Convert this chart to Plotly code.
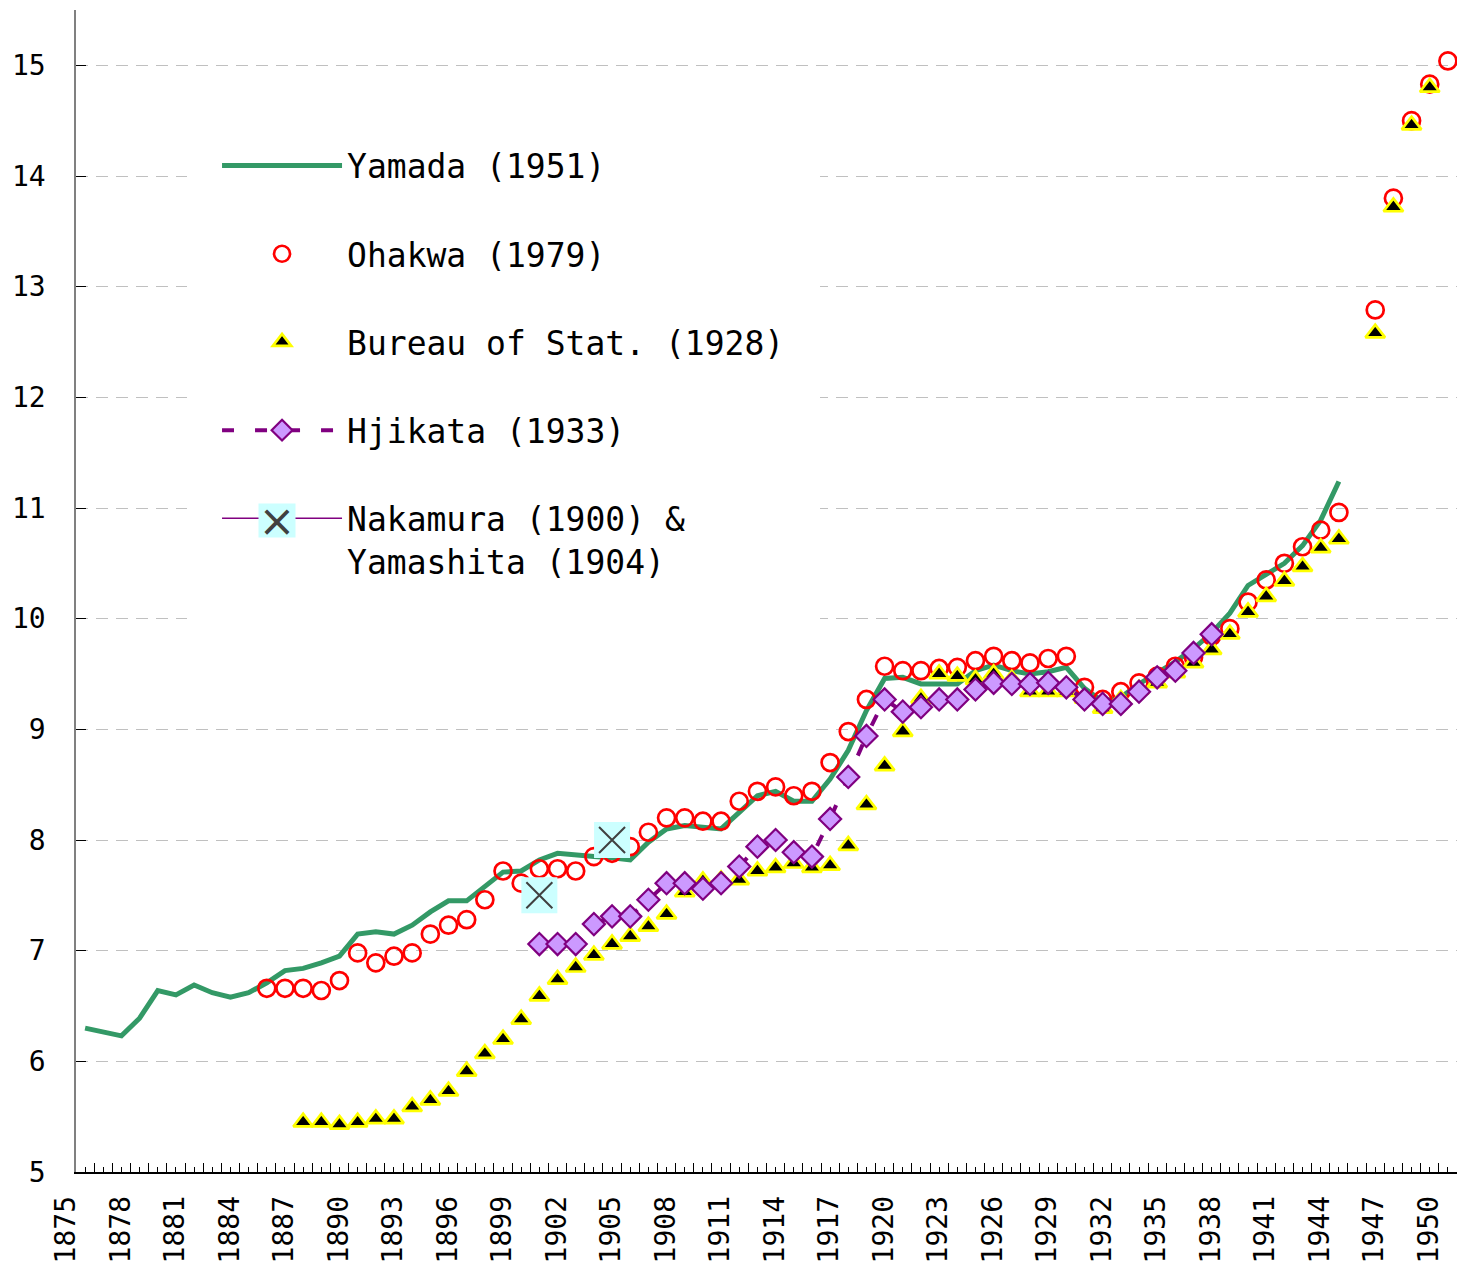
import plotly.graph_objects as go

FONT = "DejaVu Sans Mono"

# ---------------- data ----------------
yamada_years = list(range(1875, 1945))
yamada = [6.30, 6.27, 6.23, 6.39, 6.64, 6.60, 6.69, 6.62, 6.58, 6.62,
          6.71, 6.82, 6.84, 6.89, 6.95, 7.15, 7.17, 7.15, 7.23, 7.35,
          7.45, 7.45, 7.58, 7.71, 7.72, 7.82, 7.88, 7.86, 7.85, 7.84,
          7.82, 7.98, 8.10, 8.13, 8.11, 8.10, 8.25, 8.40, 8.44, 8.35,
          8.35, 8.55, 8.81, 9.17, 9.46, 9.47, 9.41, 9.41, 9.41, 9.53,
          9.58, 9.53, 9.50, 9.52, 9.56, 9.37, 9.25, 9.29, 9.41, 9.51,
          9.61, 9.73, 9.87, 10.05, 10.30, 10.40, 10.50, 10.66, 10.89, 11.24]

ohakwa_years = list(range(1885, 1951))
ohakwa = [6.66, 6.66, 6.66, 6.64, 6.73, 6.98, 6.89, 6.95, 6.98, 7.15,
          7.23, 7.28, 7.46, 7.72, 7.61, 7.74, 7.74, 7.72, 7.85, 7.88,
          7.94, 8.07, 8.20, 8.20, 8.17, 8.17, 8.35, 8.44, 8.48, 8.40,
          8.44, 8.70, 8.98, 9.27, 9.57, 9.53, 9.53, 9.55, 9.56, 9.62,
          9.66, 9.62, 9.60, 9.64, 9.66, 9.38, 9.27, 9.34, 9.42, 9.48,
          9.57, 9.65, 9.84, 9.91, 10.15, 10.35, 10.50, 10.65, 10.80, 10.96,
          None, 12.79, 13.80, 14.50, 14.83, 15.04]

bureau_years = list(range(1887, 1950))
bureau = [5.45, 5.45, 5.43, 5.45, 5.48, 5.48, 5.59, 5.65, 5.73, 5.91,
          6.07, 6.20, 6.38, 6.59, 6.74, 6.85, 6.96, 7.06, 7.13, 7.22,
          7.33, 7.53, 7.63, 7.64, 7.64, 7.72, 7.75, 7.79, 7.75, 7.77,
          7.95, 8.32, 8.67, 8.98, 9.28, 9.50, 9.48, 9.45, 9.50, 9.45,
          9.34, 9.34, 9.34, 9.28, 9.19, 9.27, 9.36, 9.42, 9.51, 9.60,
          9.72, 9.86, 10.06, 10.20, 10.34, 10.47, 10.64, 10.72, None, 12.58,
          13.72, 14.46, 14.80]

hjikata_years = list(range(1900, 1938))
hjikata = [7.06, 7.06, 7.06, 7.24, 7.31, 7.31, 7.46, 7.61, 7.61, 7.56,
           7.61, 7.76, 7.94, 8.00, 7.89, 7.85, 8.19, 8.57, 8.94, 9.27,
           9.16, 9.20, 9.27, 9.27, 9.36, 9.42, 9.41, 9.41, 9.42, 9.38,
           9.27, 9.23, 9.23, 9.34, 9.47, 9.53, 9.69, 9.86]

nakamura_years = [1900, 1901, 1902, 1903, 1904]
nakamura = [7.50, None, None, None, 8.00]

tick_years = list(range(1875, 1951))
tick_labels = [str(y) if (y - 1875) % 3 == 0 else "" for y in tick_years]

# ---------------- figure ----------------
fig = go.Figure()

fig.add_trace(go.Scatter(
    x=yamada_years, y=yamada, mode="lines", name="Yamada (1951)",
    legendgroup="g1", line=dict(color="#339966", width=5)))

fig.add_trace(go.Scatter(
    x=ohakwa_years, y=ohakwa, mode="markers", name="Ohakwa (1979)",
    legendgroup="g2",
    marker=dict(symbol="circle-open", size=17, color="#FF0000",
                line=dict(width=2.7, color="#FF0000"))))

fig.add_trace(go.Scatter(
    x=bureau_years, y=bureau, mode="markers", name="Bureau of Stat. (1928)",
    legendgroup="g3",
    marker=dict(symbol="triangle-up", size=17, color="#000000",
                line=dict(width=2.7, color="#FFFF00"))))

fig.add_trace(go.Scatter(
    x=hjikata_years, y=hjikata, mode="lines+markers", name="Hjikata (1933)",
    legendgroup="g4",
    line=dict(color="#800080", width=4, dash="12px,21px"),
    marker=dict(symbol="diamond", size=17, color="#CC99FF",
                line=dict(width=2.2, color="#800080"))))

fig.add_trace(go.Scatter(
    x=nakamura_years, y=nakamura, mode="markers", showlegend=False,
    legendgroup="g5", hoverinfo="skip",
    marker=dict(symbol="square", size=36, color="#CCFFFF",
                line=dict(width=0))))

fig.add_trace(go.Scatter(
    x=nakamura_years, y=nakamura, mode="lines+markers",
    name="Nakamura (1900) &<br>Yamashita (1904)", legendgroup="g5",
    connectgaps=False,
    line=dict(color="#800080", width=1.5),
    marker=dict(symbol="x-thin", size=26, color="#404040",
                line=dict(width=2, color="#404040"))))

# cyan box behind the X in the legend sample (legend decoration)
fig.add_annotation(
    xref="paper", yref="paper", x=0.1455, y=0.5611,
    xanchor="center", yanchor="middle", showarrow=False,
    text="×", font=dict(family="DejaVu Sans", size=44, color="#404040"),
    bgcolor="#CCFFFF", width=36, height=33, valign="middle", borderpad=0)

fig.update_layout(
    width=1466, height=1258,
    margin=dict(l=68, r=17, t=2, b=94),
    paper_bgcolor="white", plot_bgcolor="white",
    font=dict(family=FONT, color="black"),
    legend=dict(
        x=0.0804, y=0.916, xanchor="left", yanchor="top",
        bgcolor="white", bordercolor="white", borderwidth=30,
        font=dict(family=FONT, size=33, color="black"),
        itemwidth=120, tracegroupgap=42.3, valign="top",
    ),
    xaxis=dict(
        range=[1874.5, 1950.5], automargin=False,
        tickmode="array", tickvals=tick_years, ticktext=tick_labels,
        tickangle=-90, ticks="inside", ticklen=5, tickcolor="black",
        tickfont=dict(family=FONT, size=28, color="black"),
        ticklabelshift=-19, ticklabelstandoff=11,
        minor=dict(tick0=1874.5, dtick=1, ticks="inside", ticklen=9,
                   tickcolor="black", showgrid=False),
        showline=True, linecolor="black", linewidth=1.5,
        showgrid=False, zeroline=False,
    ),
    yaxis=dict(
        range=[5, 15.5], tick0=5, dtick=1, tickmode="linear", automargin=False,
        ticks="inside", ticklen=10, tickcolor="black",
        tickfont=dict(family=FONT, size=28, color="black"),
        ticklabelstandoff=23,
        showline=True, linecolor="#808080", linewidth=1.5,
        showgrid=True, gridcolor="#C0C0C0", gridwidth=1, griddash="12px,8px",
        zeroline=False,
    ),
)

fig.write_html("out.html")
